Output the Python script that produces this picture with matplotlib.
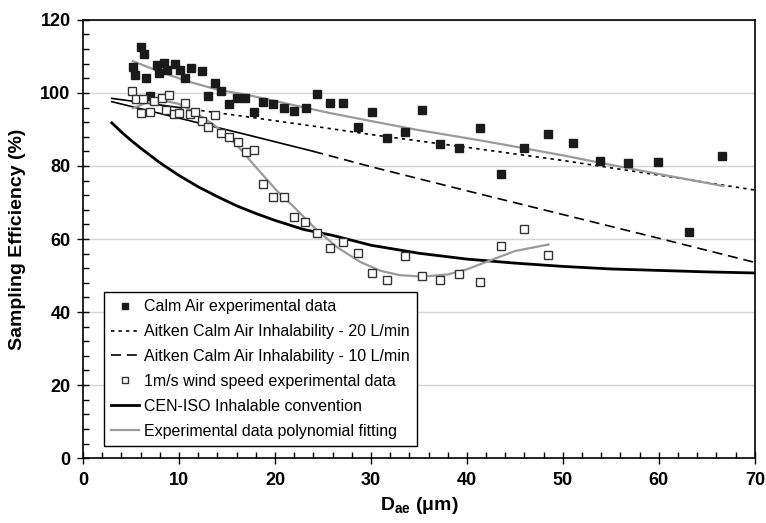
import matplotlib
matplotlib.use("Agg")
import matplotlib.pyplot as plt
from matplotlib.ticker import MultipleLocator

plt.rcParams['font.family'] = ['Liberation Sans', 'DejaVu Sans']
plt.rcParams['mathtext.fontset'] = 'custom'
plt.rcParams['mathtext.rm'] = 'Liberation Sans'
plt.rcParams['mathtext.bf'] = 'Liberation Sans:bold'

# calm air experimental data
calm_x = [5.2, 5.4, 6.0, 6.35, 6.6, 7.0, 7.7, 7.9, 8.4, 8.7, 9.6, 10.1, 10.6, 11.3,
          12.4, 13.05, 13.7, 14.4, 15.2, 16.0, 16.9, 17.8, 18.8, 19.8, 20.9, 22.0,
          23.2, 24.4, 25.7, 27.1, 28.6, 30.1, 31.7, 33.5, 35.3, 37.2, 39.2, 41.4,
          43.6, 45.9, 48.5, 51.1, 53.9, 56.8, 59.9, 63.1, 66.6]
calm_y = [107.1, 104.9, 112.6, 110.7, 104.1, 99.1, 107.7, 105.4, 108.1, 106.4, 107.8,
          106.4, 104.0, 106.8, 105.9, 99.1, 102.7, 100.6, 97.0, 98.5, 98.5, 94.8, 97.5,
          97.0, 96.0, 95.0, 95.9, 99.7, 97.3, 97.3, 90.6, 94.8, 87.6, 89.3, 95.2, 86.1,
          85.0, 90.4, 77.7, 84.9, 88.8, 86.4, 81.3, 80.8, 81.1, 61.8, 82.6]

# 1 m/s wind speed experimental data
wind_x = [5.1, 5.5, 6.0, 6.3, 7.0, 7.4, 8.2, 8.6, 9.0, 9.5, 10.0, 10.6, 11.1, 11.7,
          12.4, 13.0, 13.7, 14.4, 15.2, 16.1, 17.0, 17.8, 18.8, 19.8, 20.9, 22.0,
          23.1, 24.4, 25.7, 27.1, 28.6, 30.1, 31.7, 33.5, 35.3, 37.2, 39.2, 41.4,
          43.6, 45.9, 48.5]
wind_y = [100.5, 98.2, 94.5, 98.2, 94.9, 97.9, 98.7, 95.4, 99.3, 94.1, 94.5, 97.3,
          94.1, 94.7, 92.4, 90.7, 93.9, 89.1, 87.9, 86.6, 83.9, 84.4, 75.0, 71.4,
          71.4, 66.1, 64.7, 61.6, 57.5, 59.3, 56.2, 50.7, 48.9, 55.3, 49.9, 48.9,
          50.4, 48.1, 58.2, 62.7, 55.7]

# Aitken calm air inhalability curves
aitken_x = [3, 10, 17, 24, 30, 40, 50, 60, 70]
aitken20_y = [98.5, 96.0, 93.5, 90.9, 88.6, 85.1, 81.5, 77.5, 73.4]
aitken10_y = [97.6, 93.1, 88.6, 84.0, 79.8, 73.2, 66.7, 60.2, 53.6]

# CEN-ISO inhalable convention
iso_x = [3, 4, 5, 6, 7, 8, 10, 12, 14, 16, 18, 20, 23, 26, 30, 35, 40, 45, 50, 55, 60, 65, 70]
iso_y = [91.8, 89.3, 87.0, 84.9, 82.9, 80.9, 77.4, 74.3, 71.6, 69.1, 67.0, 65.1, 62.6,
         61.0, 58.3, 56.1, 54.5, 53.4, 52.5, 51.8, 51.4, 51.0, 50.7]

# polynomial fits
fit_calm_x = [5.2, 8, 11, 14, 17.4, 21, 25.7, 30, 35, 41.4, 45, 50, 55, 60, 66.7]
fit_calm_y = [108.7, 105.8, 103.1, 100.9, 99.3, 97.2, 94.5, 92.3, 89.8, 87.0,
              85.3, 82.9, 80.3, 77.8, 74.5]
fit_wind_x = [5.2, 6.5, 8.2, 10, 11.7, 13.5, 14.8, 16.4, 18, 20.2, 22, 24.3, 26.5,
              28.9, 31, 33, 35.4, 38, 40, 42.4, 45, 48.5]
fit_wind_y = [95.8, 97.2, 98.0, 97.0, 94.6, 91.5, 88.9, 84.6, 79.7, 73.2, 68.7,
              62.6, 57.7, 53.7, 51.3, 50.1, 49.7, 50.3, 51.7, 54.1, 56.7, 58.5]

fig = plt.figure(figsize=(7.66, 5.23), dpi=100)
ax = fig.add_axes([0.1084, 0.124, 0.877, 0.838])

# the early part of the Aitken curves looks solid in the original
ax.plot(aitken_x[:2], aitken20_y[:2], color='black', lw=1.2, zorder=2)
ax.plot(aitken_x[1:], aitken20_y[1:], color='black', lw=1.2, ls=(0, (2, 2.5)),
        label='Aitken Calm Air Inhalability - 20 L/min', zorder=2)
ax.plot(aitken_x[:4], aitken10_y[:4], color='black', lw=1.2, zorder=2)
ax.plot(aitken_x[3:], aitken10_y[3:], color='black', lw=1.2, ls=(0, (6, 3.5)),
        label='Aitken Calm Air Inhalability - 10 L/min', zorder=2)
ax.plot(iso_x, iso_y, color='black', lw=2.0, label='CEN-ISO Inhalable convention', zorder=2)
ax.plot(fit_calm_x, fit_calm_y, color='#9a9a9a', lw=1.6,
        label='Experimental data polynomial fitting', zorder=3)
ax.plot(fit_wind_x, fit_wind_y, color='#9a9a9a', lw=1.6, zorder=3)
ax.plot(calm_x, calm_y, ls='none', marker='s', ms=6.0, mfc='#1a1a1a', mec='#1a1a1a',
        label='Calm Air experimental data', zorder=4)
ax.plot(wind_x, wind_y, ls='none', marker='s', ms=6.0, mfc='white', mec='#333333',
        mew=1.0, label='1m/s wind speed experimental data', zorder=5)

ax.set_xlim(0, 70)
ax.set_ylim(0, 120)
ax.xaxis.set_major_locator(MultipleLocator(10))
ax.xaxis.set_minor_locator(MultipleLocator(2))
ax.yaxis.set_major_locator(MultipleLocator(20))
ax.yaxis.set_minor_locator(MultipleLocator(4))
ax.yaxis.grid(True, color='#d4d4d4', lw=1.0)
ax.set_axisbelow(True)
ax.tick_params(which='major', direction='inout', length=8, width=1)
ax.tick_params(which='minor', direction='in', length=4, width=1)
for lab in ax.get_xticklabels() + ax.get_yticklabels():
    lab.set_fontfamily(['Liberation Sans Narrow', 'Liberation Sans'])
    lab.set_fontweight('bold')
    lab.set_fontsize(13)
ax.tick_params(axis='x', pad=6)
ax.tick_params(axis='y', pad=5)
for s in ['left', 'bottom', 'right', 'top']:
    ax.spines[s].set_linewidth(1.2)

ax.set_ylabel('Sampling Efficiency (%)', fontsize=14, fontweight='bold', labelpad=10)
ax.set_xlabel(r'$\mathbf{D_{ae}}$ ($\mathbf{\mu}$m)', fontsize=14, fontweight='bold', labelpad=4)

handles, labels = ax.get_legend_handles_labels()
order = ['Calm Air experimental data', 'Aitken Calm Air Inhalability - 20 L/min',
         'Aitken Calm Air Inhalability - 10 L/min', '1m/s wind speed experimental data',
         'CEN-ISO Inhalable convention', 'Experimental data polynomial fitting']
hmap = dict(zip(labels, handles))
leg = ax.legend([hmap[k] for k in order], order, loc='upper left',
                bbox_to_anchor=(0.031, 0.379), borderaxespad=0, fancybox=False,
                edgecolor='black', framealpha=1, fontsize=11.5, handlelength=1.75,
                labelspacing=0.62, handletextpad=0.3, markerscale=0.75, borderpad=0.45)
leg.get_frame().set_linewidth(1.0)

fig.savefig('out.png', dpi=100)
